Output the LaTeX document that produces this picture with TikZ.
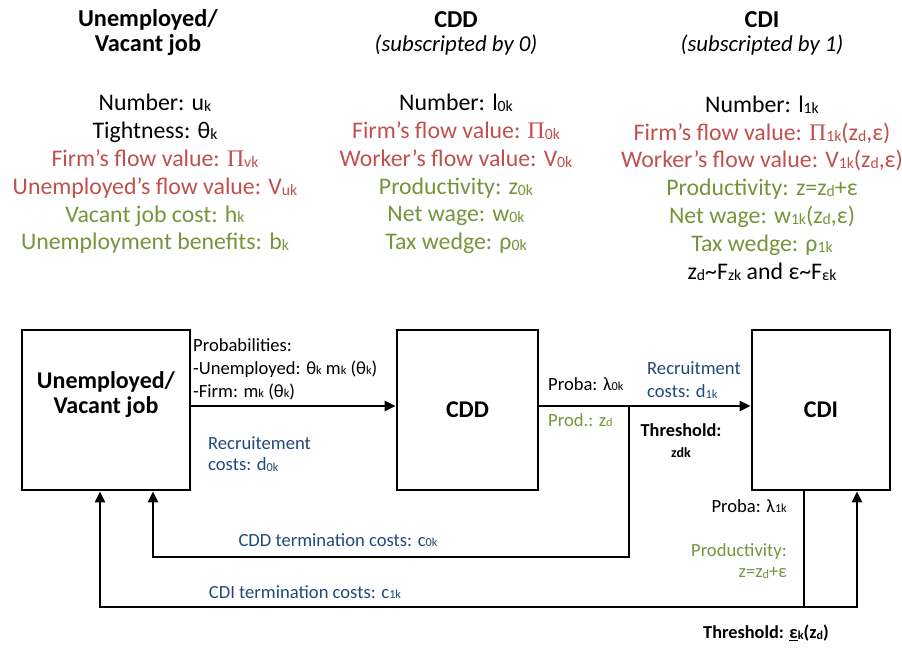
\documentclass[tikz,border=0pt]{standalone}
\usepackage{fontspec}
\usepackage{graphicx}
\setmainfont{Carlito}
\newfontfamily\pifont{Liberation Serif}
\usetikzlibrary{arrows.meta}
\definecolor{cred}{HTML}{C0504D}
\definecolor{cgreen}{HTML}{77933C}
\definecolor{cblue}{HTML}{1F497D}
\newcommand\sbs[1]{\raisebox{-0.08ex}{\scalebox{0.66}{#1}}}
\newcommand\PI{{\pifont Π}}
\begin{document}
\begin{tikzpicture}[x=1pt,y=-1pt,
  big/.style={font=\fontsize{23.8}{27.8}\selectfont, align=center, inner sep=0pt},
  bigb/.style={font=\fontsize{24.3}{25}\selectfont\bfseries, align=center, inner sep=0pt},
  bigi/.style={font=\fontsize{22.8}{25}\selectfont\itshape, align=center, inner sep=0pt},
  lab/.style={font=\fontsize{18.6}{23}\selectfont, align=left, inner sep=0pt},
  labb/.style={font=\fontsize{18.3}{21}\selectfont\bfseries, align=center, inner sep=0pt},
  box/.style={draw, line width=2.8pt, inner sep=0pt, font=\fontsize{24}{25}\selectfont\bfseries, align=center},
  arr/.style={line width=2.4pt, -{Triangle[length=11pt,width=10pt]}},
  ln/.style={line width=2.4pt}]
\useasboundingbox (0,0) rectangle (902,648);

% headings
\node[bigb] (h1) at (148,33) {Unemployed/\\Vacant job};
\node[bigb] (h2) at (456,20) {CDD};
\node[bigi] (h2s) at (456,45) {(subscripted by 0)};
\node[bigb] (h3) at (762,20) {CDI};
\node[bigi] (h3s) at (762,45) {(subscripted by 1)};

% columns
\node[big] (c1) at (155,174) {Number: u\sbs{k}\\
Tightness: θ\sbs{k}\\
\textcolor{cred}{Firm’s flow value: \PI\sbs{vk}}\\
\textcolor{cred}{Unemployed’s flow value: V\sbs{uk}}\\
\textcolor{cgreen}{Vacant job cost: h\sbs{k}}\\
\textcolor{cgreen}{Unemployment benefits: b\sbs{k}}};

\node[big] (c2) at (456,174) {Number: l\sbs{0k}\\
\textcolor{cred}{Firm’s flow value: \PI\sbs{0k}}\\
\textcolor{cred}{Worker’s flow value: V\sbs{0k}}\\
\textcolor{cgreen}{Productivity: z\sbs{0k}}\\
\textcolor{cgreen}{Net wage: w\sbs{0k}}\\
\textcolor{cgreen}{Tax wedge: ρ\sbs{0k}}};

\node[big] (c3) at (762,188) {Number: l\sbs{1k}\\
\textcolor{cred}{Firm’s flow value: \PI\sbs{1k}(z\sbs{d},ε)}\\
\textcolor{cred}{Worker’s flow value: V\sbs{1k}(z\sbs{d},ε)}\\
\textcolor{cgreen}{Productivity: z=z\sbs{d}+ε}\\
\textcolor{cgreen}{Net wage: w\sbs{1k}(z\sbs{d},ε)}\\
\textcolor{cgreen}{Tax wedge: ρ\sbs{1k}}\\
z\sbs{d}\textasciitilde F\sbs{zk} and ε\textasciitilde F\sbs{εk}};

% boxes
\node[box, minimum width=168pt, minimum height=160pt,
  label={[font=\fontsize{24}{25}\selectfont\bfseries, align=center, inner sep=0pt, yshift=15pt]center:Unemployed/\\Vacant job}] (b1) at (106,410) {};
\node[box, minimum width=141pt, minimum height=160pt] (b2) at (467.5,410) {CDD};
\node[box, minimum width=138pt, minimum height=160pt] (b3) at (821,410) {CDI};

% main arrows
\draw[arr] ([yshift=4pt]b1.east) -- ([yshift=4pt]b2.west);
\draw[arr] ([yshift=4pt]b2.east) -- ([yshift=4pt]b3.west);

% return connectors
\coordinate (j1) at (629,406);
\coordinate (k1) at (629,557);
\draw[arr] (j1) -- (k1) -| ([xshift=47pt]b1.south);
\coordinate (k2) at (804,607);
\draw[ln] ([xshift=-17pt]b3.south) -- (k2);
\draw[arr] (k2) -| ([xshift=-6pt]b1.south);
\draw[arr] (k2) -| ([xshift=36pt]b3.south);

% labels
\node[lab, anchor=west] (l1) at (193,369) {Probabilities:\\-Unemployed: θ\sbs{k} m\sbs{k} (θ\sbs{k})\\-Firm: m\sbs{k} (θ\sbs{k})};
\node[lab, anchor=west, text=cblue, font=\fontsize{18.6}{21}\selectfont] (l2) at (208,454) {Recruitement\\costs: d\sbs{0k}};
\node[lab, anchor=west] (l3) at (548,384) {Proba: λ\sbs{0k}};
\node[lab, anchor=west, text=cblue] (l4) at (647,380) {Recruitment\\costs: d\sbs{1k}};
\node[lab, anchor=west, text=cgreen] (l5) at (548,420) {Prod.: z\sbs{d}};
\node[labb] (l6) at (681,441) {Threshold:\\{\fontsize{14}{14}\selectfont zdk}};
\node[lab, text=cblue] (l7) at (338,540) {CDD termination costs: c\sbs{0k}};
\node[lab, text=cblue] (l8) at (305,592) {CDI termination costs: c\sbs{1k}};
\node[lab, anchor=east] (l9) at (787,506) {Proba: λ\sbs{1k}};
\node[lab, anchor=east, align=right, text=cgreen, font=\fontsize{18.6}{21}\selectfont] (l10) at (787,561) {Productivity:\\z=z\sbs{d}+ε};
\node[labb] (l11) at (766,633) {Threshold: \underline{ε}\sbs{k}(z\sbs{d})};
\end{tikzpicture}
\end{document}
